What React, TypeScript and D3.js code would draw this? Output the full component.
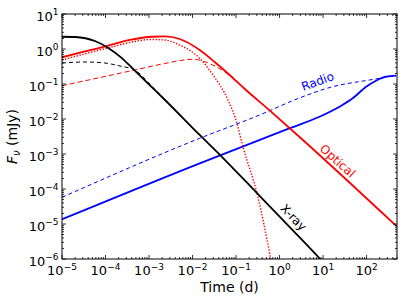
import * as d3 from "d3";
import React, { useRef, useEffect } from "react";

// light curves: time in days, flux density in mJy
const xrayT = [1e-5, 2e-5, 5.7e-5, 1.13e-4, 2.34e-4, 4.72e-4, 1.14e-3, 2.3e-3, 1.46e-2, 4.6e-2, 0.292, 1.69, 8.26, 15.8];
const xrayF = [2.24, 2.2, 1.69, 1.09, 0.56, 0.24, 0.083, 0.0355, 3.5e-3, 8.6e-4, 8.0e-5, 8.3e-6, 1.05e-6, 4.3e-7];

const xrayFsT = [1e-5, 3.37e-5, 9.7e-5, 2.14e-4, 4.72e-4, 1.04e-3, 1.78e-3];
const xrayFsF = [0.398, 0.426, 0.398, 0.327, 0.251, 0.1, 0.05];

const optT = [1e-5, 3.37e-5, 1.15e-4, 3.63e-4, 1.14e-3, 2.3e-3, 5.08e-3, 1.46e-2, 3.23e-2, 7.13e-2, 0.157, 0.59, 2.88, 482];
const optF = [0.58, 0.85, 1.24, 1.81, 2.24, 2.28, 1.93, 0.935, 0.425, 0.181, 0.073, 0.0176, 3.06e-3, 8.77e-6];

const optRsT = [1e-5, 1.13e-4, 4.72e-4, 1.04e-3, 2.3e-3, 5.08e-3, 1.46e-2, 2.95e-2, 6.52e-2, 0.102, 0.144, 0.318, 0.59, 0.692];
const optRsF = [0.485, 1.07, 1.64, 1.87, 1.81, 1.3, 0.542, 0.181, 0.0349, 8.4e-3, 1.62e-3, 6.0e-5, 1.46e-6, 5e-7];

const optFsT = [1e-5, 7.45e-5, 4.72e-4, 2.3e-3, 1.01e-2, 2.9e-2, 7.13e-2, 0.157];
const optFsF = [0.0893, 0.153, 0.251, 0.385, 0.508, 0.349, 0.175, 0.073];

const radioT = [1e-5, 1.46e-2, 1.69, 8.26, 23.8, 48, 97.5, 165, 280, 475];
const radioF = [1.36e-5, 5.42e-4, 5.42e-3, 0.0116, 0.0224, 0.039, 0.0838, 0.124, 0.162, 0.173];

const radioFsT = [1e-5, 1.46e-2, 0.348, 2.88, 16.7, 116, 475];
const radioFsF = [5.79e-5, 2.81e-3, 0.013, 0.04, 0.0838, 0.13, 0.173];

const W = 407;
const H = 305;
const margin = { top: 14, right: 10, bottom: 46, left: 62 };

const series = [
  { t: radioFsT, f: radioFsF, color: "#0000ff", width: 1, dash: "4 3" },
  { t: radioT, f: radioF, color: "#0000ff", width: 1.8, dash: null },
  { t: optFsT, f: optFsF, color: "#ff0000", width: 1, dash: "5 3" },
  { t: optRsT, f: optRsF, color: "#ff0000", width: 1.4, dash: "1.4 1.6" },
  { t: optT, f: optF, color: "#ff0000", width: 1.8, dash: null },
  { t: xrayFsT, f: xrayFsF, color: "#000000", width: 1, dash: "4 3" },
  { t: xrayT, f: xrayF, color: "#000000", width: 1.8, dash: null },
];

const App = () => {
  const svgRef = useRef<SVGSVGElement>(null);

  useEffect(() => {
    const svg = d3.select(svgRef.current);
    svg.selectAll("*").remove();
    const font = "DejaVu Sans, sans-serif";

    const x = d3.scaleLog().domain([1e-5, 500]).range([margin.left, W - margin.right]);
    const y = d3.scaleLog().domain([1e-6, 10]).range([H - margin.bottom, margin.top]);
    const [x0, x1] = x.range();
    const [y0, y1] = y.range();

    svg.append("rect").attr("width", W).attr("height", H).attr("fill", "#fff");

    svg
      .append("clipPath")
      .attr("id", "plot-clip")
      .append("rect")
      .attr("x", x0)
      .attr("y", y1)
      .attr("width", x1 - x0)
      .attr("height", y0 - y1);

    const line = d3
      .line<number>()
      .x((d) => x(d[0]))
      .y((d) => y(d[1]))
      .curve(d3.curveMonotoneX);

    const plot = svg.append("g").attr("clip-path", "url(#plot-clip)");
    series.forEach((s) => {
      const pts = s.t.map((t, i) => [t, s.f[i]]);
      plot
        .append("path")
        .datum(pts)
        .attr("d", line as any)
        .attr("fill", "none")
        .attr("stroke", s.color)
        .attr("stroke-width", s.width)
        .attr("stroke-dasharray", s.dash)
        .attr("stroke-linejoin", "round");
    });

    // ticks on all four sides, pointing inwards
    const isMajor = (d: number) => Math.abs(Math.log10(d) - Math.round(Math.log10(d))) < 1e-9;
    const ticks = svg.append("g").attr("stroke", "#000").attr("stroke-width", 0.8);
    x.ticks().forEach((d) => {
      const len = isMajor(d) ? 4 : 2;
      ticks.append("line").attr("x1", x(d)).attr("x2", x(d)).attr("y1", y0).attr("y2", y0 - len);
      ticks.append("line").attr("x1", x(d)).attr("x2", x(d)).attr("y1", y1).attr("y2", y1 + len);
    });
    y.ticks().forEach((d) => {
      const len = isMajor(d) ? 4 : 2;
      ticks.append("line").attr("y1", y(d)).attr("y2", y(d)).attr("x1", x0).attr("x2", x0 + len);
      ticks.append("line").attr("y1", y(d)).attr("y2", y(d)).attr("x1", x1).attr("x2", x1 - len);
    });

    svg
      .append("rect")
      .attr("x", x0)
      .attr("y", y1)
      .attr("width", x1 - x0)
      .attr("height", y0 - y1)
      .attr("fill", "none")
      .attr("stroke", "#000")
      .attr("stroke-width", 1);

    const expLabel = (sel: any, d: number) => {
      const e = Math.round(Math.log10(d));
      sel.append("tspan").text("10");
      sel
        .append("tspan")
        .attr("dy", -5.5)
        .attr("font-size", 9)
        .text(String(e).replace("-", "\u2212"));
    };

    x.ticks().filter(isMajor).forEach((d) => {
      const t = svg
        .append("text")
        .attr("x", x(d))
        .attr("y", y0 + 16)
        .attr("text-anchor", "middle")
        .attr("font-family", font)
        .attr("font-size", 13);
      expLabel(t, d);
    });

    y.ticks().filter(isMajor).forEach((d) => {
      const t = svg
        .append("text")
        .attr("x", x0 - 3.5)
        .attr("y", y(d) + 6.5)
        .attr("text-anchor", "end")
        .attr("font-family", font)
        .attr("font-size", 13);
      expLabel(t, d);
    });

    // axis titles
    svg
      .append("text")
      .attr("x", (x0 + x1) / 2)
      .attr("y", 292)
      .attr("text-anchor", "middle")
      .attr("font-family", font)
      .attr("font-size", 14)
      .text("Time (d)");

    const yl = svg
      .append("text")
      .attr("transform", `translate(17,${(y0 + y1) / 2}) rotate(-90)`)
      .attr("text-anchor", "middle")
      .attr("font-family", font)
      .attr("font-size", 14);
    yl.append("tspan").attr("font-style", "italic").text("F");
    yl.append("tspan").attr("dy", 3).attr("font-size", 10).attr("font-style", "italic").text("\u03bd");
    yl.append("tspan").attr("dy", -3).text(" (mJy)");

    // band annotations
    const notes = [
      { text: "Radio", t: 7.5, f: 0.118, angle: -20, color: "#0000ff" },
      { text: "Optical", t: 21.5, f: 6.3e-4, angle: 42, color: "#ff0000" },
      { text: "X-ray", t: 2.08, f: 1.53e-5, angle: 46, color: "#000000" },
    ];
    notes.forEach((n) => {
      svg
        .append("text")
        .attr("transform", `translate(${x(n.t)},${y(n.f)}) rotate(${n.angle})`)
        .attr("text-anchor", "middle")
        .attr("dominant-baseline", "central")
        .attr("font-family", font)
        .attr("font-size", 12)
        .attr("fill", n.color)
        .text(n.text);
    });
  }, []);

  return (
    <svg
      ref={svgRef}
      width={W}
      height={H}
      style={{ position: "absolute", left: 0, top: 0 }}
    ></svg>
  );
};

export default App;
